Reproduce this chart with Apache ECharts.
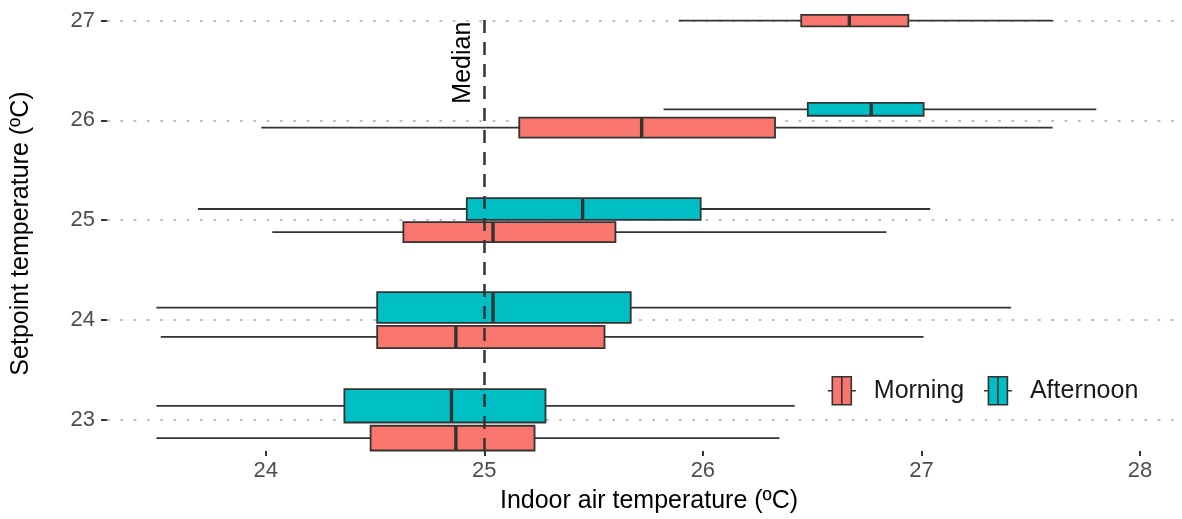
<!DOCTYPE html>
<html>
<head>
<meta charset="utf-8">
<script src="https://cdn.jsdelivr.net/npm/echarts@6/dist/echarts.min.js"></script>
<style>
html,body{margin:0;padding:0;background:#ffffff;}
#chart{width:1182px;height:519px;}
</style>
</head>
<body>
<div id="chart"></div>
<script>
// ---------------- data ----------------
const setpoints = [23, 24, 25, 26, 27];
const yTickLabels = ['23', '24', '25', '26', '27'];
const xTickValues = [24, 25, 26, 27, 28];
const xTickLabels = ['24', '25', '26', '27', '28'];
const groups = ['Morning', 'Afternoon'];
// [lower whisker, Q1, median, Q3, upper whisker] per setpoint (null = no data)
const morningStats = [
  [23.50, 24.48, 24.87, 25.23, 26.35],
  [23.52, 24.51, 24.87, 25.55, 27.01],
  [24.03, 24.63, 25.04, 25.60, 26.84],
  [23.98, 25.16, 25.72, 26.33, 27.60],
  [25.89, 26.45, 26.67, 26.94, 27.60]
];
const afternoonStats = [
  [23.50, 24.36, 24.85, 25.28, 26.42],
  [23.50, 24.51, 25.04, 25.67, 27.41],
  [23.69, 24.92, 25.45, 25.99, 27.04],
  [25.82, 26.48, 26.77, 27.01, 27.80],
  null
];
// relative sample sizes (box thickness ~ sqrt(n), varwidth)
const morningN = [55, 44, 36, 36, 12];
const afternoonN = [100, 85, 42, 15, 0];
const medianRef = 25;
const medianText = 'Median';
const xTitle = 'Indoor air temperature (ºC)';
const yTitle = 'Setpoint temperature (ºC)';

// ---------------- styling / layout ----------------
const FONT = '"Liberation Sans", Arial, Helvetica, sans-serif';
const COLORS = { Morning: '#F8766D', Afternoon: '#00BFC4' };
const EDGE = '#333333';
const SLOT_MAX = 0.372;   // slot thickness (y units) for the largest group
const N_MAX = 100;
const BOX_FRAC = 0.9;     // dodge2 padding
const TITLE_SIZE = 25;
const TICK_SIZE = 22;

const statsByGroup = { Morning: morningStats, Afternoon: afternoonStats };
const nByGroup = { Morning: morningN, Afternoon: afternoonN };

function buildData() {
  const out = { Morning: [], Afternoon: [] };
  setpoints.forEach((sp, i) => {
    const present = groups.filter(g => statsByGroup[g][i]);
    const slots = present.map(g => SLOT_MAX * Math.sqrt(nByGroup[g][i] / N_MAX));
    const total = slots.reduce((a, b) => a + b, 0);
    let start = sp - total / 2;
    present.forEach((g, k) => {
      const c = start + slots[k] / 2;
      start += slots[k];
      out[g].push([c, slots[k] * BOX_FRAC / 2].concat(statsByGroup[g][i]));
    });
  });
  return out;
}
const boxData = buildData();

function renderBox(params, api) {
  const yc = api.value(0), hh = api.value(1);
  const lo = api.value(2), q1 = api.value(3), md = api.value(4), q3 = api.value(5), hi = api.value(6);
  const pLo = api.coord([lo, yc]);
  const pQ1 = api.coord([q1, yc]);
  const pMd = api.coord([md, yc]);
  const pQ3 = api.coord([q3, yc]);
  const pHi = api.coord([hi, yc]);
  const top = api.coord([q1, yc + hh])[1];
  const bot = api.coord([q1, yc - hh])[1];
  const color = api.visual('color');
  const wl = { stroke: EDGE, lineWidth: 1.8 };
  return {
    type: 'group',
    children: [
      { type: 'line', shape: { x1: pLo[0], y1: pLo[1], x2: pQ1[0], y2: pQ1[1] }, style: wl },
      { type: 'line', shape: { x1: pQ3[0], y1: pQ3[1], x2: pHi[0], y2: pHi[1] }, style: wl },
      { type: 'rect', shape: { x: pQ1[0], y: top, width: pQ3[0] - pQ1[0], height: bot - top },
        style: { fill: color, stroke: EDGE, lineWidth: 1.8 } },
      { type: 'line', shape: { x1: pMd[0], y1: top, x2: pMd[0], y2: bot },
        style: { stroke: EDGE, lineWidth: 3.4 } }
    ]
  };
}

function renderMedianLabel(params, api) {
  const p = api.coord([api.value(0), api.value(1)]);
  return {
    type: 'text',
    x: p[0] - 21,
    y: p[1] + 1,
    rotation: Math.PI / 2,
    style: {
      text: medianText,
      fontSize: TITLE_SIZE,
      fontFamily: FONT,
      fill: '#000000',
      align: 'right',
      verticalAlign: 'middle'
    }
  };
}

const KEY_ICON = 'path://M0,14H4.5M4.5,0H23.5V28H4.5ZM14,0V28M23.5,14H28';

const chart = echarts.init(document.getElementById('chart'), null, { renderer: 'canvas' });

const option = {
  backgroundColor: '#ffffff',
  animation: false,
  textStyle: { fontFamily: FONT },
  grid: { left: 107, right: 0, top: 16, bottom: 64, containLabel: false },
  legend: {
    left: 827,
    top: 376,
    padding: 0,
    itemWidth: 28,
    itemHeight: 28,
    itemGap: 19,
    selectedMode: false,
    textStyle: { fontSize: TITLE_SIZE, color: '#1a1a1a', fontFamily: FONT, padding: [0, 0, 0, 13] },
    data: groups.map(g => ({
      name: g,
      icon: KEY_ICON,
      itemStyle: { color: COLORS[g], borderColor: EDGE, borderWidth: 1.6 }
    }))
  },
  xAxis: {
    type: 'value',
    min: 23.274,
    max: 28.192,
    axisLine: { show: false },
    splitLine: { show: false },
    axisTick: {
      show: true, customValues: xTickValues, length: 5, inside: false,
      lineStyle: { color: EDGE, width: 2 }
    },
    axisLabel: {
      customValues: xTickValues,
      formatter: v => xTickLabels[xTickValues.indexOf(Math.round(v))],
      fontSize: TICK_SIZE, color: '#4d4d4d', fontFamily: FONT, margin: 9
    },
    name: xTitle,
    nameLocation: 'middle',
    nameGap: 38,
    nameTextStyle: { fontSize: TITLE_SIZE, color: '#000000', fontFamily: FONT, padding: [0, 0, 0, 9] }
  },
  yAxis: {
    type: 'value',
    min: 22.685,
    max: 27.047,
    axisLine: { show: false },
    splitLine: { show: false },
    axisTick: {
      show: true, customValues: setpoints, length: 6, inside: false,
      lineStyle: { color: EDGE, width: 2 }
    },
    axisLabel: {
      customValues: setpoints,
      formatter: v => yTickLabels[setpoints.indexOf(Math.round(v))],
      fontSize: TICK_SIZE, color: '#4d4d4d', fontFamily: FONT, margin: 12
    },
    name: yTitle,
    nameLocation: 'middle',
    nameGap: 73,
    nameRotate: 90,
    nameTextStyle: { fontSize: TITLE_SIZE, color: '#000000', fontFamily: FONT }
  },
  series: [
    {
      name: 'Morning',
      type: 'custom',
      renderItem: renderBox,
      itemStyle: { color: COLORS.Morning },
      encode: { x: [2, 3, 4, 5, 6], y: 0 },
      data: boxData.Morning,
      z: 3,
      silent: true,
      markLine: {
        silent: true,
        symbol: 'none',
        z: 1,
        label: { show: false },
        lineStyle: { color: '#bdbdbd', width: 2, type: [2.7, 10.6] },
        emphasis: { disabled: true },
        data: setpoints.map(v => ({ yAxis: v }))
      }
    },
    {
      name: 'Afternoon',
      type: 'custom',
      renderItem: renderBox,
      itemStyle: { color: COLORS.Afternoon },
      encode: { x: [2, 3, 4, 5, 6], y: 0 },
      data: boxData.Afternoon,
      z: 3,
      silent: true,
      markLine: {
        silent: true,
        symbol: 'none',
        z: 6,
        label: { show: false },
        lineStyle: { color: EDGE, width: 2.5, type: [13, 9] },
        emphasis: { disabled: true },
        data: [{ xAxis: medianRef }]
      }
    },
    {
      name: 'medianLabel',
      type: 'custom',
      renderItem: renderMedianLabel,
      encode: { x: 0, y: 1 },
      data: [[medianRef, setpoints[setpoints.length - 1]]],
      z: 7,
      silent: true
    }
  ]
};
chart.setOption(option);
</script>
</body>
</html>
